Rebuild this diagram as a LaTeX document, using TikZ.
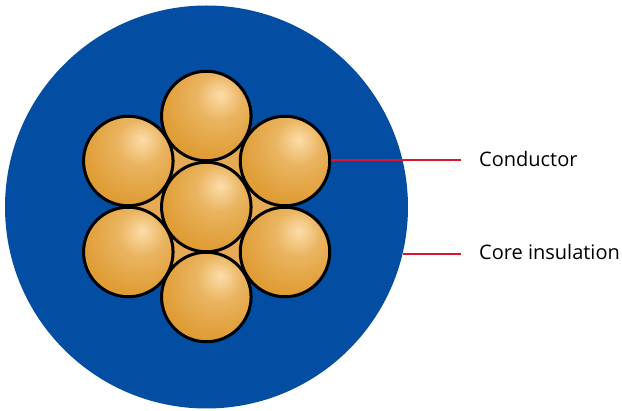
\documentclass[tikz,border=0pt]{standalone}
\usepackage{fontspec}
\setmainfont{Open Sans}
\usepackage{xcolor}
\usetikzlibrary{backgrounds}
\definecolor{jacketblue}{RGB}{3,78,162}
\definecolor{fillamber}{RGB}{230,170,84}
\definecolor{leaderred}{RGB}{222,20,50}
\definecolor{copperedge}{RGB}{205,131,0}
\definecolor{coppermid}{RGB}{224,158,56}
\definecolor{copperlight}{RGB}{252,221,170}
\pgfdeclareradialshading{wireball}{\pgfpoint{8bp}{12bp}}{
    color(0bp)=(copperlight);
    color(13bp)=(coppermid!65!copperlight);
    color(30bp)=(coppermid);
    color(44bp)=(coppermid!75!copperedge);
    color(57bp)=(copperedge);
    color(100bp)=(copperedge)}
\tikzset{
    wire/.style={circle, draw=black, line width=3pt, shading=wireball, minimum size=89.5pt, inner sep=0pt},
    jacket/.style={circle, fill=jacketblue, minimum size=403pt, inner sep=0pt},
    leader/.style={draw=leaderred, line width=1.2pt},
    calllabel/.style={anchor=west, font=\fontsize{20}{23}\selectfont, text=black, inner sep=0pt}
}
\begin{document}
\begin{tikzpicture}[x=1pt, y=-1pt]
\useasboundingbox (0,0) rectangle (622,411);

\node[wire] (wireC) at (206.3,207) {};
\node[wire] (wireT) at (206.3,116) {};
\node[wire] (wireB) at (206.3,297) {};
\node[wire] (wireUL) at (128.3,161) {};
\node[wire] (wireUR) at (285,161) {};
\node[wire] (wireLL) at (128.3,252) {};
\node[wire] (wireLR) at (285,252) {};

\begin{scope}[on background layer]
    \node[jacket] (sheath) at (206.5,207) {};
    \fill[fillamber] (wireT.center) -- (wireUR.center) -- (wireLR.center) -- (wireB.center) -- (wireLL.center) -- (wireUL.center) -- cycle;
\end{scope}

\node[calllabel] (conductor) at (479,159) {Conductor};
\node[calllabel] (insulation) at (479,252) {Core insulation};

\coordinate (conductorend) at (461,160);
\coordinate (insulationend) at (461,254);

\draw[leader] (wireUR.3 |- conductorend) -- (conductorend);
\draw[leader] (sheath.-13.5 |- insulationend) -- (insulationend);

\end{tikzpicture}
\end{document}
